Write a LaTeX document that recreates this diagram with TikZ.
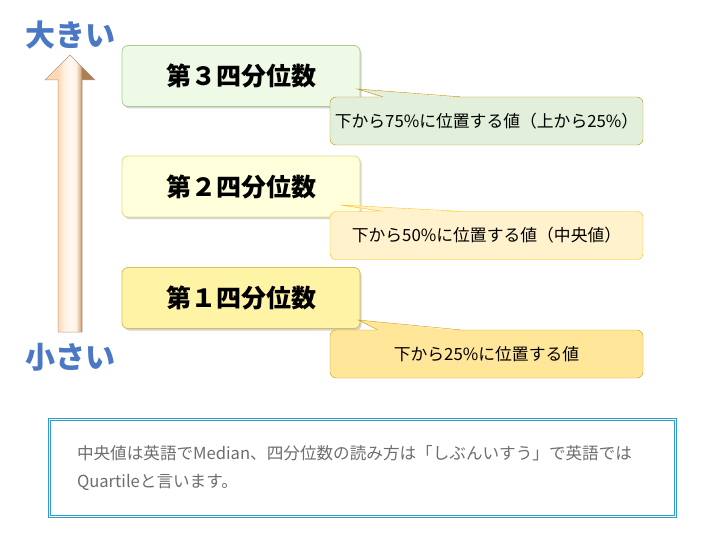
\documentclass[tikz,border=0pt]{standalone}
\usepackage{fontspec}
\setmainfont{Noto Sans CJK JP}
\usetikzlibrary{positioning,calc,shadows}

\definecolor{sizeblue}{HTML}{4A78C4}
\definecolor{qthreefill}{HTML}{EEFAE6}
\definecolor{qthreedraw}{HTML}{A9CF8E}
\definecolor{qtwofill}{HTML}{FFFFDC}
\definecolor{qtwodraw}{HTML}{E3DA8C}
\definecolor{qonefill}{HTML}{FFF3A6}
\definecolor{qonedraw}{HTML}{D8BC5C}
\definecolor{cthreefill}{HTML}{E2EFDA}
\definecolor{cthreedraw}{HTML}{BF9000}
\definecolor{ctwofill}{HTML}{FFF2CC}
\definecolor{ctwodraw}{HTML}{FFC000}
\definecolor{conefill}{HTML}{FFE699}
\definecolor{conedraw}{HTML}{C99A10}
\definecolor{noteblue}{HTML}{2E9AD0}
\definecolor{notegray}{HTML}{6E6E6E}
\definecolor{arrowedge}{HTML}{B89888}

\pgfdeclarehorizontalshading{arrowshade}{100bp}{
  color(0bp)=(orange!30!white); color(38bp)=(orange!30!white);
  color(44bp)=(orange!12!white); color(50bp)=(orange!6!white);
  color(56bp)=(orange!10!white); color(60bp)=(brown!55!white);
  color(62bp)=(brown!70!gray); color(100bp)=(brown!70!gray)}

\tikzset{
  sizelabel/.style={text=sizeblue,font=\fontsize{30}{32}\selectfont\bfseries,inner sep=0pt},
  quartbox/.style 2 args={draw=#2,fill=#1,thick,rounded corners=6pt,
    minimum width=238pt,minimum height=61pt,
    drop shadow={shadow xshift=1.5pt,shadow yshift=-2pt,opacity=0.35},
    font=\fontsize{25}{27}\selectfont\bfseries},
  callbox/.style 2 args={draw=#2,fill=#1,rounded corners=6pt,
    minimum width=313pt,minimum height=48pt,font=\fontsize{16.8}{18}\selectfont},
}

\begin{document}
\begin{tikzpicture}[x=1pt,y=-1pt]
    \useasboundingbox (0,0) rectangle (701,540);
    % big / small arrow
    \shade[shading=arrowshade,draw=arrowedge,line width=0.5pt]
      (58,332) -- (58,80) -- (45,80) -- (70,55) -- (95,80) -- (82,80) -- (82,332) -- cycle;
    \node[sizelabel] (big) at (70,35) {大きい};
    \node[sizelabel] (small) at (70,357) {小さい};

    \node[quartbox={qthreefill}{qthreedraw}] (q3) at (241,76) {第３四分位数};
    \node[quartbox={qtwofill}{qtwodraw}] (q2) at (241,186.5) {第２四分位数};
    \node[quartbox={qonefill}{qonedraw}] (q1) at (241,298) {第１四分位数};

    \node[callbox={cthreefill}{cthreedraw}] (c3) at (486.5,121) {下から75\%に位置する値（上から25\%）};
    \node[callbox={ctwofill}{ctwodraw}] (c2) at (486.5,235.5) {下から50\%に位置する値（中央値）};
    \node[callbox={conefill}{conedraw}] (c1) at (486.5,354) {下から25\%に位置する値};

    \coordinate (p3) at ($(q3.east)+(-3,13)$);
    \coordinate (p2) at ($(q2.east)+(-20,18.5)$);
    \coordinate (p1) at ($(q1.east)+(-2,22)$);
    \fill[cthreefill] ($(c3.north west)+(53,1)$) -- (p3) -- ($(c3.north west)+(130,1)$) -- cycle;
    \draw[cthreedraw] ($(c3.north west)+(53,0)$) -- (p3) -- ($(c3.north west)+(130,0)$);
    \fill[ctwofill] ($(c2.north west)+(53,1)$) -- (p2) -- ($(c2.north west)+(130,1)$) -- cycle;
    \draw[ctwodraw] ($(c2.north west)+(53,0)$) -- (p2) -- ($(c2.north west)+(130,0)$);
    \fill[conefill] ($(c1.north west)+(48,1)$) -- (p1) -- ($(c1.north west)+(130,1)$) -- cycle;
    \draw[conedraw] ($(c1.north west)+(48,0)$) -- (p1) -- ($(c1.north west)+(130,0)$);

    % note
    \node[draw=noteblue,line width=1pt,double=white,double distance=1pt,fill=white,
      minimum width=626pt,minimum height=97pt,text width=571pt,align=left,
      text=notegray,font=\fontsize{16.6}{28}\selectfont] (note) at (362.5,468)
      {中央値は英語でMedian、四分位数の読み方は「しぶんいすう」で英語では\\Quartileと言います。};
\end{tikzpicture}
\end{document}
